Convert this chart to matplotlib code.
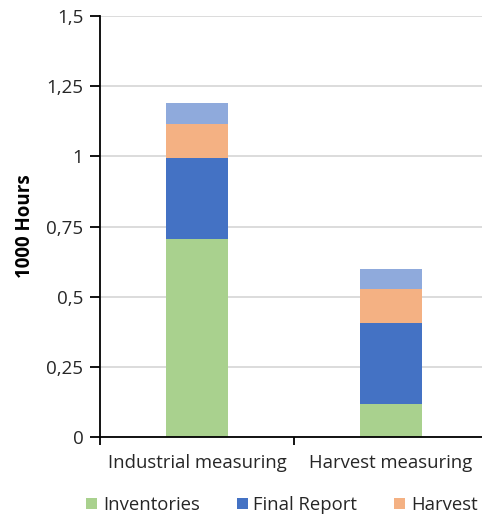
import matplotlib.pyplot as plt
from matplotlib.ticker import FixedLocator

plt.rcParams['font.family'] = ['Open Sans', 'DejaVu Sans']

categories = ["Industrial measuring", "Harvest measuring"]
inventories = [0.707, 0.118]
final_report = [0.287, 0.288]
harvest = [0.121, 0.120]
other = [0.074, 0.073]

series = [
    ("Inventories", inventories, "#A9D18E"),
    ("Final Report", final_report, "#4472C4"),
    ("Harvest", harvest, "#F4B183"),
    ("_other", other, "#8FAADC"),
]

yticks = [0, 0.25, 0.5, 0.75, 1, 1.25, 1.5]
ytick_labels = ["0", "0,25", "0,5", "0,75", "1", "1,25", "1,5"]

fig = plt.figure(figsize=(4.82, 5.17), dpi=100)
ax = fig.add_axes([100 / 482, 1 - 437 / 517, 388 / 482, 421 / 517])

x = list(range(len(categories)))
bottom = [0.0] * len(categories)
for name, vals, color in series:
    ax.bar(x, vals, width=0.315, bottom=bottom, color=color, label=name, zorder=3)
    bottom = [b + v for b, v in zip(bottom, vals)]

ax.set_xlim(-0.5, 1.5)
ax.set_ylim(0, 1.5)
ax.set_yticks(yticks)
ax.set_yticklabels(ytick_labels, fontsize=13.5, color="#262626")
ax.set_xticks(x)
ax.set_xticklabels(categories, fontsize=13.3, color="#262626")
ax.tick_params(axis='x', length=0, pad=12)
ax.xaxis.set_minor_locator(FixedLocator([-0.5, 0.5]))
ax.tick_params(axis='x', which='minor', length=6, width=1.3, direction='out')
ax.tick_params(axis='y', length=7, width=1.3, direction='out', pad=5)

ax.grid(axis='y', color="#D9D9D9", linewidth=1.3, zorder=0)
ax.spines['top'].set_visible(False)
ax.spines['right'].set_visible(False)
ax.spines['left'].set_linewidth(1.3)
ax.spines['bottom'].set_linewidth(1.3)
ax.spines['bottom'].set_zorder(4)

ax.set_ylabel("1000 Hours", fontsize=13.5, fontweight='bold', labelpad=8)

handles, labels = ax.get_legend_handles_labels()
fig.legend(handles, labels, loc='center', bbox_to_anchor=(0.585, 1 - 505 / 517),
           ncol=3, frameon=False, fontsize=13.3, handlelength=0.6, handleheight=0.6,
           handletextpad=0.3, columnspacing=2.0, labelcolor="#262626")

fig.savefig("out.png", dpi=100)
